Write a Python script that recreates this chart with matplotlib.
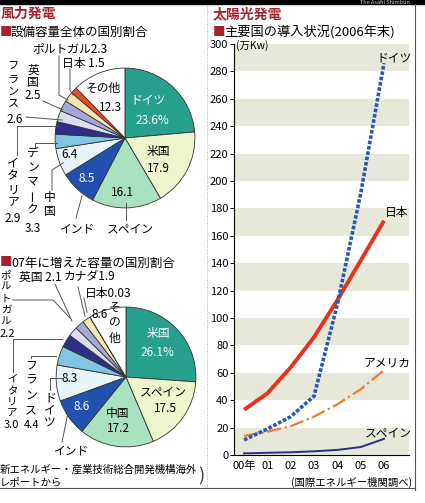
import matplotlib
matplotlib.use('Agg')
import matplotlib.pyplot as plt
from matplotlib.patches import Rectangle

plt.rcParams['font.family'] = ['Noto Sans CJK JP', 'DejaVu Sans']

# 風力発電: 設備容量全体の国別割合 (%)
total_names = ['ドイツ', '米国', 'スペイン', 'インド', '中国', 'デンマーク', 'イタリア',
               'フランス', '英国', 'ポルトガル', '日本', 'その他']
total_share = [23.6, 17.9, 16.1, 8.5, 6.4, 3.3, 2.9, 2.6, 2.5, 2.3, 1.5, 12.3]

# 07年に増えた容量の国別割合 (%)
added_names = ['米国', 'スペイン', '中国', 'インド', 'ドイツ', 'フランス', 'イタリア',
               'ポルトガル', '英国', 'カナダ', '日本', 'その他']
added_share = [26.1, 17.5, 17.2, 8.6, 8.3, 4.4, 3.0, 2.2, 2.1, 1.9, 0.03, 8.6]

slice_colors = ['#27a08d', '#eef5cc', '#a9e2bf', '#2150ae', '#e6f5f7', '#80c6e4',
                '#2d2f88', '#dcdcf0', '#a6a6d8', '#f5e7b2', '#ee4a1d', '#ffffff']

# 太陽光発電 主要国の導入状況 (万kW)
years = ['00年', '01', '02', '03', '04', '05', '06']
germany = [11, 19, 28, 43, 110, 191, 286]
japan = [33, 45, 64, 86, 113, 142, 171]
usa = [14, 17, 21, 28, 37, 48, 62]
spain = [1.2, 1.6, 2.0, 2.7, 3.7, 5.8, 11.8]

W, H = 425, 503
fig = plt.figure(figsize=(W / 100, H / 100), dpi=100)
fig.patch.set_facecolor('white')


def box(x0, y0, x1, y1):
    # pixel box (top-left origin) -> figure fraction
    return [x0 / W, 1 - y1 / H, (x1 - x0) / W, (y1 - y0) / H]


def draw_pie(rect, values):
    ax = fig.add_axes(rect)
    ax.pie(values, colors=slice_colors, startangle=90, counterclock=False,
           wedgeprops=dict(edgecolor='#333333', linewidth=0.6))
    ax.set_xlim(-1.03, 1.03)
    ax.set_ylim(-1.03, 1.03)
    ax.set_aspect('equal')
    ax.axis('off')
    return ax


draw_pie(box(53, 66, 197, 210), total_share)
draw_pie(box(54, 305, 198, 449), added_share)

# line chart
lx = fig.add_axes(box(234, 44, 409, 455))
xs = list(range(len(years)))
for lo in range(0, 300, 40):
    lx.axhspan(lo, lo + 20, color='#e6e9da', lw=0, zorder=0)
lx.plot(xs, japan, color='#e8321e', lw=2.8, solid_capstyle='butt', zorder=3)
lx.plot(xs, usa, color='#f07a28', lw=1.6, ls='-.', zorder=3)
lx.plot(xs, germany, color='#2f55b5', lw=2.6, ls=(0, (1, 0.5)), zorder=4)
lx.plot(xs, spain, color='#2a2f86', lw=1.4, zorder=3)
lx.set_xlim(-0.43, 7.07)
lx.set_ylim(0, 300)
lx.set_yticks(range(0, 301, 20))
lx.set_xticks(xs)
lx.set_xticklabels(years)
lx.tick_params(axis='y', direction='out', length=3, width=0.7, pad=1, labelsize=8)
lx.tick_params(axis='x', length=0, pad=4, labelsize=8)
for s in ['top', 'right']:
    lx.spines[s].set_visible(False)
for s in ['left', 'bottom']:
    lx.spines[s].set_linewidth(0.8)
lx.set_facecolor('white')
lx.text(6.43, 290, 'ドイツ', fontsize=8.5, ha='center', va='center')
lx.text(6.56, 177, '日本', fontsize=8.5, ha='center', va='center')
lx.text(6.13, 67, 'アメリカ', fontsize=8.5, ha='center', va='center')
lx.text(6.17, 16, 'スペイン', fontsize=8.5, ha='center', va='center')

# overlay in pixel coordinates for titles, labels and leader lines
ov = fig.add_axes([0, 0, 1, 1])
ov.set_xlim(0, W)
ov.set_ylim(H, 0)
ov.axis('off')

dark_red = '#a3222c'


def t(x, y, s, size=8.5, color='black', ha='center', **kw):
    ov.text(x, y, s, fontsize=size, color=color, ha=ha, va='center', **kw)


def vtext(x, y, s, step=13, size=8.5):
    for i, ch in enumerate(s):
        ov.text(x, y + i * step, ch, fontsize=size, ha='center', va='center',
                rotation=90 if ch == 'ー' else 0)


def leader(pts):
    ov.plot([p[0] for p in pts], [p[1] for p in pts], color='#555555', lw=0.7)


# top strip and frames
ov.add_patch(Rectangle((0, 0), W, 4, color='black'))
ov.text(410, 2, 'The Asahi Shimbun', fontsize=4, color='#cccccc', ha='right', va='center')
ov.plot([207, 207], [6, 488], color='#999999', lw=0.6, ls=':')
ov.plot([415, 415], [4, 490], color='#555555', lw=0.8)
ov.plot([0, 415], [488, 488], color='#555555', lw=0.8)

# titles
t(1, 14, '風力発電', size=10, color=dark_red, ha='left', fontweight='bold')
t(0, 32, '■', size=9, color=dark_red, ha='left')
t(11, 32, '設備容量全体の国別割合', size=9, ha='left')
t(0, 263, '■', size=9, color=dark_red, ha='left')
t(11, 263, '07年に増えた容量の国別割合', size=9, ha='left')
t(213, 14, '太陽光発電', size=10, color=dark_red, ha='left', fontweight='bold')
t(213, 32, '■', size=9, color=dark_red, ha='left')
t(224, 32, '主要国の導入状況(2006年末)', size=9.5, ha='left')
t(236, 46, '(万Kw)', size=7.5, ha='left')

# pie 1 labels
t(148, 100, 'ドイツ', color='white')
t(152, 120, '23.6%', color='white')
t(158, 152, '米国')
t(158, 169, '17.9')
t(122, 193, '16.1')
t(87, 178, '8.5', color='white')
t(70, 155, '6.4')
t(103, 88, 'その他')
t(110, 107, '12.3')
t(130, 229, 'スペイン')
t(78, 229, 'インド')
t(70, 49, 'ポルトガル2.3')
t(83, 63, '日本 1.5')
vtext(50, 197, '中国', step=15)
vtext(33, 153, 'デンマーク', step=14.2)
t(33, 228, '3.3')
vtext(13, 163, 'イタリア', step=13.3)
t(13, 218, '2.9')
vtext(13, 67, 'フランス', step=12.5, size=8)
t(15, 119, '2.6')
vtext(33, 70, '英国', step=12)
t(33, 95, '2.5')
leader([(59, 56), (59, 95), (68, 100)])
leader([(70, 69), (70, 90), (73, 95)])
leader([(43, 101), (63, 110)])
leader([(26, 117), (62, 120)])
leader([(17, 155), (17, 126), (58, 126)])
leader([(35, 148), (35, 143), (57, 143)])
leader([(52, 190), (52, 170), (63, 163)])
leader([(82, 196), (76, 218)])
leader([(126, 203), (126, 220)])

# pie 2 labels
t(158, 333, '米国', color='white')
t(157, 352, '26.1%', color='white')
t(163, 392, 'スペイン')
t(165, 408, '17.5')
t(118, 413, '中国')
t(118, 428, '17.2')
t(82, 407, '8.6', color='white')
t(70, 379, '8.3')
t(100, 315, '8.6')
vtext(115, 307, 'その他', step=15.5)
t(40, 277, '英国 2.1')
t(90, 277, 'カナダ1.9')
t(108, 293, '日本0.03')
t(72, 451, 'インド')
vtext(6, 275, 'ポルトガル', step=11.7, size=7.5)
t(7, 334, '2.2', size=8)
vtext(12, 379, 'イタリア', step=11.3, size=7.5)
t(11, 425, '3.0', size=8)
vtext(31, 365, 'フランス', step=15)
t(32, 425, '4.4', size=8)
vtext(50, 398, 'ドイツ', step=12.5)
leader([(13, 300), (53, 300), (70, 318)])
leader([(55, 284), (72, 321)])
leader([(78, 287), (85, 316)])
leader([(84, 298), (87, 312)])
leader([(13, 372), (13, 339), (62, 339)])
leader([(31, 358), (31, 356), (56, 356)])
leader([(50, 390), (50, 378), (62, 378)])
leader([(68, 413), (62, 442)])

# sources
t(0, 470, '新エネルギー・産業技術総合開発機構海外', size=7.5, ha='left')
t(0, 482, 'レポートから', size=7.5, ha='left')
t(201, 476, ')', size=13, color='#333333', ha='center')
t(412, 482, '(国際エネルギー機関調べ)', size=7.5, ha='right')

fig.savefig('out.png', dpi=100)
